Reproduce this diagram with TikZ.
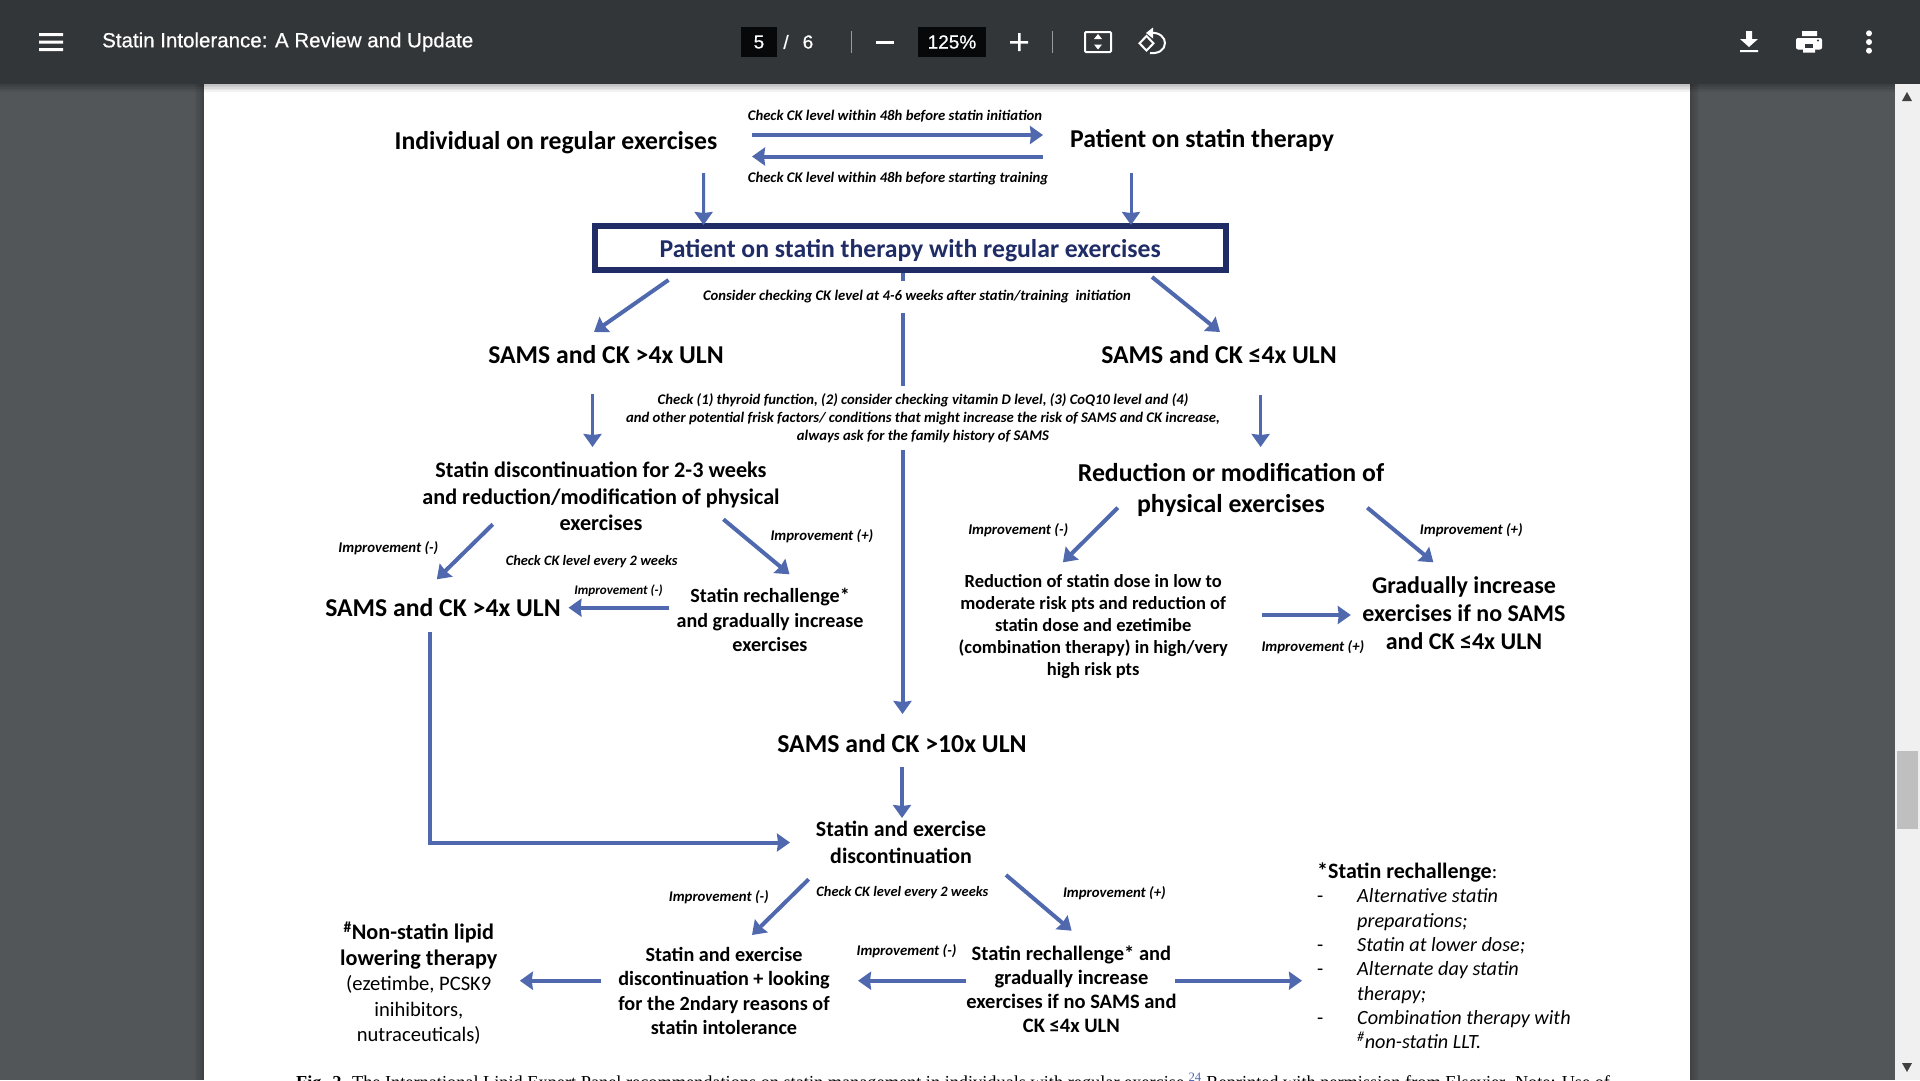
\documentclass[tikz,border=0pt]{standalone}
\usepackage{fontspec}
\setmainfont{Carlito}
\newfontfamily\uifont[FakeBold=0.5]{Liberation Sans}
\newfontfamily\capfont{Liberation Serif}
\usetikzlibrary{arrows.meta}
\definecolor{barcol}{HTML}{323639}
\definecolor{sidecol}{HTML}{525659}
\definecolor{navycol}{HTML}{1F2C66}
\definecolor{flowcol}{HTML}{5069AE}
\tikzset{
  bigtext/.style 2 args={font=\bfseries\fontsize{#1}{#2}\selectfont,align=center,inner sep=0pt},
  notetext/.style={font=\bfseries\itshape\fontsize{#1}{18}\selectfont,align=center,inner sep=0pt},
  uitext/.style={font=\uifont\fontsize{#1}{#1}\selectfont,text=white,inner sep=0pt},
  flowline/.style={line width=4pt,flowcol},
  thinflow/.style={line width=3pt,flowcol}
}

\begin{document}
\begin{tikzpicture}[x=1pt,y=-1pt,
      >={Stealth[length=13pt,width=18pt,inset=1pt]}]

    \useasboundingbox (0,0) rectangle (1920,1080);

    % viewer background
    \fill[sidecol] (0,0) rectangle (1920,1080);
    \fill[white] (204,84) rectangle (1690,1080);
    \fill[black!6] (1895,84) rectangle (1920,1080);
    \fill[black!25] (1897,751) rectangle (1918,829);
    \fill[black!75] (1907,92) -- (1902,101) -- (1912,101) -- cycle;
    \fill[black!75] (1907,1072) -- (1902,1063) -- (1912,1063) -- cycle;
    \foreach \i in {1,...,5}
      \fill[black,opacity=0.05] (0,84) rectangle (1895,84+1.5*\i);
    \foreach \i in {1,...,4}
      \fill[black,opacity=0.05] (1690,84) rectangle (1690+2.2*\i,1080);
    \foreach \i in {1,...,4}
      \fill[black,opacity=0.05] (204,84) rectangle (204-2.2*\i,1080);
    \fill[barcol] (0,0) rectangle (1920,84);

    % toolbar
    \fill[white] (39,33) rectangle (63,36) (39,40.5) rectangle (63,43.5) (39,48) rectangle (63,51);
    \node[uitext=20.5,anchor=west] (DocTitle) at (102,42) {Statin Intolerance: A Review and Update};
    \fill[black!85!barcol] (741,27) rectangle (777,57);
    \node[uitext=19] (PageNo) at (759,42) {5};
    \node[uitext=19] (PageSep) at (786,42) {/};
    \node[uitext=19] (PageAll) at (808,42) {6};
    \fill[white!50!barcol] (850.5,31) rectangle (851.5,53);
    \fill[white] (876,41) rectangle (894,43.5);
    \fill[black!85!barcol] (918,27) rectangle (986,57);
    \node[uitext=19] (ZoomNo) at (952,42) {125\%};
    \fill[white] (1010,41) rectangle (1028,43.5) (1018,33) rectangle (1020.5,51);
    \fill[white!50!barcol] (1052,31) rectangle (1053,53);
    \draw[white,line width=2pt,rounded corners=1pt] (1085,32) rectangle (1111,52);
    \fill[white] (1098,34) -- (1094,39) -- (1102,39) -- cycle (1098,49.5) -- (1094,44.5) -- (1102,44.5) -- cycle;
    \draw[white,line width=2pt] (1146.5,36) -- (1139.5,43.3) -- (1146.5,50.5) -- (1153.5,43.3) -- cycle;
    \draw[white,line width=2pt] (1151,33) .. controls (1160,32) and (1165,38) .. (1165,43) .. controls (1165,50) and (1158,54) .. (1150,53);
    \fill[white] (1146,33) -- (1153,27.5) -- (1153,38.5) -- cycle;
    \fill[white] (1746,31) rectangle (1752,39) (1740,39) -- (1758,39) -- (1749,47) -- cycle (1740,50) rectangle (1758,52);
    \fill[white,rounded corners=2pt] (1796,38) rectangle (1822,49.5);
    \fill[white] (1802,31) rectangle (1817,36) (1803,46) rectangle (1815,52.5);
    \fill[barcol] (1805,44) rectangle (1813,48);
    \fill[barcol] (1818,40.5) circle (1.2);
    \fill[white] (1869,33.3) circle (3) (1869,42) circle (3) (1869,50.7) circle (3);

    % main boxes
    \node[draw=navycol,line width=6pt,minimum width=631pt,minimum height=44pt,
          text=navycol,font=\bfseries\fontsize{25.7}{30}\selectfont,inner sep=0pt,
          text height=20pt,text depth=1pt]
      (Both) at (910.2,248) {Patient on statin therapy with regular exercises};
    \node[bigtext={25.7}{30}]
      (Individual) at (556,142.4) {Individual on regular exercises};
    \node[bigtext={25.7}{30}]
      (OnStatin) at (1202,140.4) {Patient on statin therapy};
    \node[bigtext={25.7}{30}]
      (SamsHigh) at (606,355) {SAMS and CK >4x ULN};
    \node[bigtext={25.7}{30}]
      (SamsLow) at (1219,355) {SAMS and CK ≤4x ULN};
    \node[bigtext={22.2}{26.7}]
      (StopStatin) at (601,496.5) {Statin discontinuation for 2-3 weeks\\and reduction/modification of physical\\exercises};
    \node[bigtext={25.8}{31.3}]
      (Modify) at (1231,490) {Reduction or modification of\\physical exercises};
    \node[bigtext={25.7}{30}]
      (SamsAgain) at (443,608) {SAMS and CK >4x ULN};
    \node[bigtext={20.1}{24.4}]
      (Rechallenge) at (770,620) {Statin rechallenge*\\and gradually increase\\exercises};
    \node[bigtext={18.5}{22}]
      (LowerDose) at (1093.2,626.5) {Reduction of statin dose in low to\\moderate risk pts and reduction of\\statin dose and ezetimibe\\(combination therapy) in high/very\\high risk pts};
    \node[bigtext={24}{28.3}]
      (Gradual) at (1464,613.3) {Gradually increase\\exercises if no SAMS\\and CK ≤4x ULN};
    \node[bigtext={25.8}{30}]
      (SamsTen) at (902,744) {SAMS and CK >10x ULN};
    \node[bigtext={21.9}{27}]
      (StopBoth) at (901,842.5) {Statin and exercise\\discontinuation};
    \node[bigtext={20.2}{24.3}]
      (Looking) at (724,991) {Statin and exercise\\discontinuation + looking\\for the 2ndary reasons of\\statin intolerance};
    \node[bigtext={20.5}{24}]
      (RechallengeTwo) at (1071.4,989) {Statin rechallenge* and\\gradually increase\\exercises if no SAMS and\\CK ≤4x ULN};
    \node[bigtext={22.2}{25.5}]
      (NonStatin) at (418.8,983.2) {\textsuperscript{\#}Non-statin lipid\\lowering therapy\\{\mdseries\fontsize{20.6}{25}\selectfont (ezetimbe, PCSK9}\\{\mdseries\fontsize{20.6}{25}\selectfont inihibitors,}\\{\mdseries\fontsize{20.6}{25}\selectfont nutraceuticals)}};
    \node[font=\fontsize{20.2}{24.3}\selectfont,align=left,inner sep=0pt,anchor=west]
      (ListNotes) at (1317,955.8) {{\bfseries\fontsize{22}{24.3}\selectfont *Statin rechallenge}:\\
        \makebox[40pt][l]{-}\textit{Alternative statin}\\
        \makebox[40pt][l]{}\textit{preparations;}\\
        \makebox[40pt][l]{-}\textit{Statin at lower dose;}\\
        \makebox[40pt][l]{-}\textit{Alternate day statin}\\
        \makebox[40pt][l]{}\textit{therapy;}\\
        \makebox[40pt][l]{-}\textit{Combination therapy with}\\
        \makebox[40pt][l]{}\textit{\textsuperscript{\#}non-statin LLT.}};

    % centre line runs behind the white notes
    \path[->,flowline]
      ([shift={(-7.7,25)}]Both.center) edge ([shift={(0.5,-30)}]SamsTen.center);

    % notes
    \node[notetext=14.7,fill=white,minimum height=32pt]
      (NoteCheck) at (917,296.5) {Consider checking CK level at 4-6 weeks after statin/training\ \ initiation};
    \node[notetext=14.7,fill=white,inner ysep=7pt]
      (NoteRisk) at (923,418) {Check (1) thyroid function, (2) consider checking vitamin D level, (3) CoQ10 level and (4)\\and other potential frisk factors/ conditions that might increase the risk of SAMS and CK increase,\\always ask for the family history of SAMS};
    \node[notetext=14.7] (NoteTop) at (895,116.5) {Check CK level within 48h before statin initiation};
    \node[notetext=14.7] (NoteBottom) at (898,179) {Check CK level within 48h before starting training};
    \node[notetext=14.8] (ImpA) at (388.4,548) {Improvement (-)};
    \node[notetext=14.8] (ImpB) at (821.9,536) {Improvement (+)};
    \node[notetext=14.4] (NoteTwoWeeks) at (591.7,561.5) {Check CK level every 2 weeks};
    \node[notetext=13.1] (ImpC) at (618.6,591) {Improvement (-)};
    \node[notetext=14.8] (ImpD) at (1018.2,530) {Improvement (-)};
    \node[notetext=14.8] (ImpE) at (1471.3,530) {Improvement (+)};
    \node[notetext=14.8] (ImpF) at (1312.9,646.7) {Improvement (+)};
    \node[notetext=14.8] (ImpG) at (718.8,896.7) {Improvement (-)};
    \node[notetext=14.4] (NoteTwoWeeksB) at (902.4,892.8) {Check CK level every 2 weeks};
    \node[notetext=14.8] (ImpH) at (1114.4,892.7) {Improvement (+)};
    \node[notetext=14.8] (ImpI) at (906.5,951) {Improvement (-)};
    \node[font=\capfont\fontsize{18.3}{18}\selectfont,inner sep=0pt,anchor=base west]
      (Caption) at (296,1088) {\textbf{Fig. 2.} The International Lipid Expert Panel recommendations on statin management in individuals with regular exercise.\textsuperscript{\textcolor{flowcol}{24}} Reprinted with permission from Elsevier. Note: Use of};

    % connectors
    \path[->,flowline]
      ([shift={(196,-7.4)}]Individual.center) edge ([shift={(-159,-5.4)}]OnStatin.center)
      ([shift={(-159,16.1)}]OnStatin.center) edge ([shift={(196,14.1)}]Individual.center)
      ([shift={(-241.7,32)}]Both.center) edge ([shift={(-12,-23)}]SamsHigh.center)
      ([shift={(241.8,29)}]Both.center) edge ([shift={(1,-23)}]SamsLow.center)
      ([shift={(-108.2,27.8)}]StopStatin.center) edge ([shift={(-6.2,-28.7)}]SamsAgain.center)
      ([shift={(122.4,22.8)}]StopStatin.center) edge ([shift={(19.5,-45.7)}]Rechallenge.center)
      ([shift={(-101,-12.3)}]Rechallenge.center) edge ([shift={(125.5,-0.3)}]SamsAgain.center)
      ([shift={(-113.2,17.7)}]Modify.center) edge ([shift={(-30.3,-64.2)}]LowerDose.center)
      ([shift={(136.3,17.7)}]Modify.center) edge ([shift={(-30.6,-51)}]Gradual.center)
      ([shift={(168.8,-11.5)}]LowerDose.center) edge ([shift={(-113.2,1.7)}]Gradual.center)
      ([shift={(-92.4,36.8)}]StopBoth.center) edge ([shift={(28,-56)}]Looking.center)
      ([shift={(105,32.5)}]StopBoth.center) edge ([shift={(0.2,-58.3)}]RechallengeTwo.center)
      ([shift={(-105.2,-8.3)}]RechallengeTwo.center) edge ([shift={(134,-10.3)}]Looking.center)
      ([shift={(-122.6,-10.3)}]Looking.center) edge ([shift={(101,-2.5)}]NonStatin.center)
      ([shift={(103.5,-8.3)}]RechallengeTwo.center) edge ([shift={(-15,24.9)}]ListNotes.west)
      ([shift={(0,22.5)}]SamsTen.center) edge ([shift={(1,-24.5)}]StopBoth.center);
    \path[->,thinflow]
      ([shift={(147.6,30.6)}]Individual.center) edge ([shift={(-206.6,-23)}]Both.center)
      ([shift={(-71,32.6)}]OnStatin.center) edge ([shift={(220.8,-23)}]Both.center)
      ([shift={(-13.5,39)}]SamsHigh.center) edge ([shift={(-8.5,-49.5)}]StopStatin.center)
      ([shift={(41.6,40)}]SamsLow.center) edge ([shift={(29.6,-43)}]Modify.center);
    \draw[->,flowline] ([shift={(-13.4,23.7)}]SamsAgain.center) |- ([xshift=-111pt]StopBoth.center);

  \end{tikzpicture}
\end{document}
